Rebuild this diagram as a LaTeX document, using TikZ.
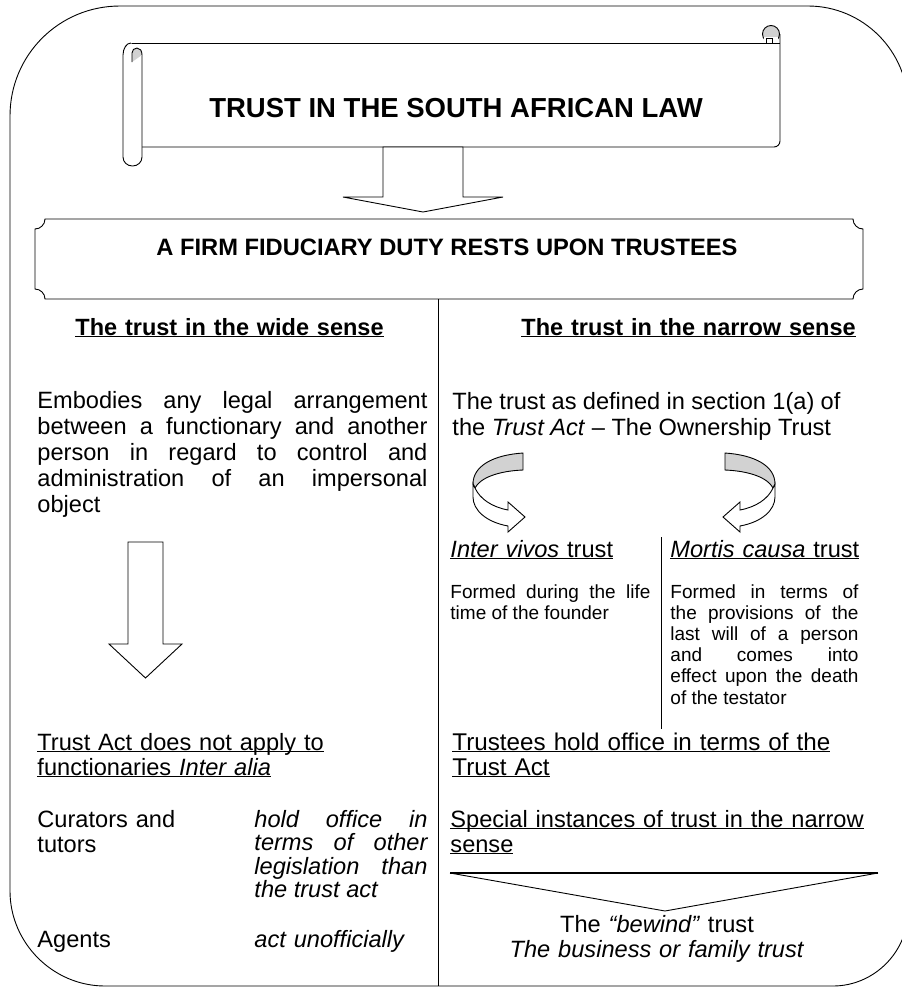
\documentclass[tikz,border=0pt]{standalone}
\usepackage{fontspec}
\setmainfont{Liberation Sans}
\tolerance=10000
\hbadness=10000
\newcommand{\undl}[1]{\underline{\smash{#1}}}

\begin{document}
\begin{tikzpicture}[x=1pt,y=-1pt,line width=0.9pt,
  txt/.style={inner sep=0pt,anchor=base west,text width=420,align=left,font=\fontsize{23.6}{25}\selectfont},
  para/.style={txt,align=justify,font=\fontsize{23.6}{26}\selectfont},
  small/.style={txt,align=justify,font=\fontsize{19}{21.2}\selectfont},
  caps/.style={inner sep=0pt,anchor=base,font=\fontsize{23.7}{28}\selectfont\bfseries}]
\useasboundingbox (0,0) rectangle (902,989);

% frame
\draw (10,116) .. controls (10,55) and (59,6) .. (120,6) -- (808,6) .. controls (863,6) and (908,51) .. (908,106) -- (908,911) .. controls (908,952) and (874,986) .. (833,986) -- (105,986) .. controls (53,986) and (10,943) .. (10,891) -- cycle;

% scroll
\draw[fill=gray!35] (771,34) circle (8.5);
\fill[white] (764,37) rectangle (778,42.5);
\draw (766,43) -- (766,38) -- (772,38) -- (772,43);
\draw (131,43) -- (780,43);
\draw (780,34) -- (780,141) .. controls (780,144.3) and (777.3,147) .. (774,147) -- (142,147);
\draw[fill=white] (142,55) -- (142,157) .. controls (142,162.2) and (137.7,166) .. (132.5,166) .. controls (127.3,166) and (123,162.2) .. (123,157) -- (123,55) .. controls (123,48.4) and (126.6,43) .. (131,43);
\draw[fill=gray!35] (132,62) -- (132,53) .. controls (132,50.2) and (134.2,48) .. (137,48) .. controls (139.8,48) and (142,50.5) .. (142,55);
\node[caps,font=\fontsize{27.5}{30}\selectfont\bfseries] (title) at (456,117) {TRUST IN THE SOUTH AFRICAN LAW};

% block arrow down
\draw[fill=white] (383,147) -- (383,197) -- (343,197) -- (423,212) -- (503,197) -- (463,197) -- (463,147) -- cycle;

% plaque
\draw (45,219) -- (853,219) .. controls (853,224.5) and (857.5,229) .. (863,229) -- (863,289) .. controls (857.5,289) and (853,293.5) .. (853,299) -- (45,299) .. controls (45,293.5) and (40.5,289) .. (35,289) -- (35,229) .. controls (40.5,229) and (45,224.5) .. (45,219) -- cycle;
\node[caps] (duty) at (447,255) {A FIRM FIDUCIARY DUTY RESTS UPON TRUSTEES};
\draw (438,299) -- (438,986);

% wide sense
\node[txt,font=\fontsize{23.5}{28}\selectfont\bfseries] (wide) at (75,335) {\undl{The trust in the wide sense}};
\node[para,text width=390] (widetxt) at (37,408) {Embodies any legal arrangement\linebreak between a functionary and another\linebreak person in regard to control and\linebreak administration of an impersonal\linebreak object};
\draw[fill=white] (128,542) -- (163,542) -- (163,644) -- (182,644) -- (145.5,678) -- (109,644) -- (128,644) -- cycle;
\node[txt] (noapply) at (37,750) {\undl{Trust Act does not apply to}\\\undl{functionaries \textit{Inter alia}}};
\node[txt] (curators) at (37,827) {Curators and\\tutors};
\node[para,font=\fontsize{23.6}{23.5}\selectfont\itshape,text width=173] (otherleg) at (254,827) {hold office in\linebreak terms of other\linebreak legislation than\linebreak the trust act};
\node[txt] (agents) at (37,947) {Agents};
\node[txt] (unofficial) at (254,947) {\textit{act unofficially}};

% narrow sense
\node[txt,font=\fontsize{23.5}{28}\selectfont\bfseries] (narrow) at (521,335) {\undl{The trust in the narrow sense}};
\node[para,text width=388] (narrowtxt) at (452,409) {The trust as defined in section 1(a) of\linebreak the \textit{Trust Act} -- The Ownership Trust};
\foreach \sx/\dx in {1/0,-1/1248} {
  \begin{scope}[xshift=\dx pt,xscale=\sx]
    \draw[fill=gray!35] (523,453) .. controls (493,455) and (473,466) .. (473,484) -- (475,488) .. controls (480,478) and (498,471) .. (523,470) -- cycle;
    \draw[fill=white] (473,484) -- (473,497) .. controls (473,510) and (486,522) .. (508,526) -- (508,532) -- (525,517) -- (508,502) -- (508,510) .. controls (492,507) and (480,499) .. (475,488) -- cycle;
  \end{scope}
}
\node[txt] (vivos) at (450,557) {\undl{\textit{Inter vivos} trust}};
\node[txt] (mortis) at (670,557) {\undl{\textit{Mortis causa} trust}};
\node[small,text width=200] (vivostxt) at (450,598) {Formed during the life\linebreak time of the founder};
\node[small,text width=188] (mortistxt) at (670,598) {Formed in terms of\linebreak the provisions of the\linebreak last will of a person\linebreak and comes into\linebreak effect upon the death\linebreak of the testator};
\draw (661,537) -- (661,729);
\node[txt,font=\fontsize{24.2}{25}\selectfont] (holdoffice) at (452,750) {\undl{Trustees hold office in terms of the}\\\undl{Trust Act}};
\node[txt] (special) at (450,827) {\undl{Special instances of trust in the narrow}\\\undl{sense}};
\draw (450,873) -- (665,911) -- (878,873);
\draw[line width=1.6pt] (450,873) -- (878,873);
\node[txt,anchor=base,text width=320,align=center] (bewind) at (657,932) {The \textit{“bewind”} trust\\\textit{The business or family trust}};
\end{tikzpicture}
\end{document}
